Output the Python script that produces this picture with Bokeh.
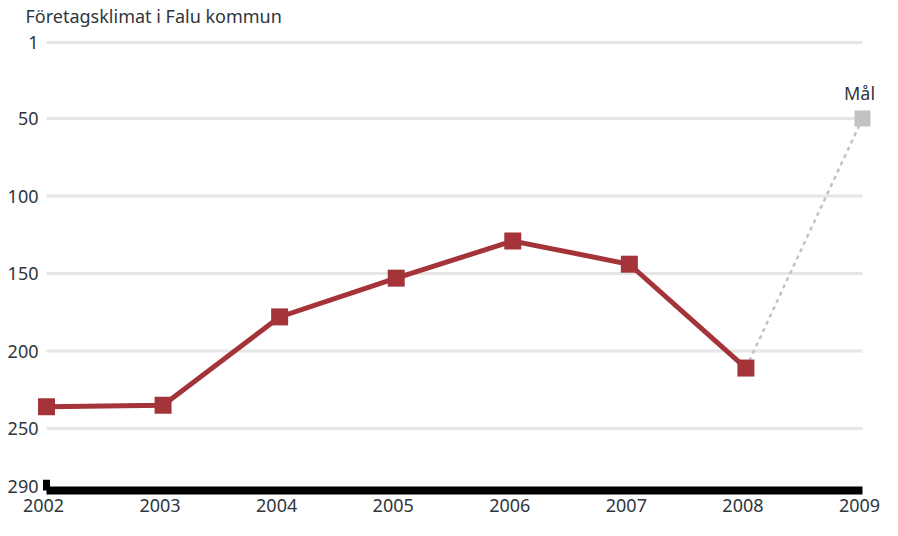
from bokeh.plotting import figure
from bokeh.models import Range1d, ColumnDataSource
from bokeh.core.properties import value
from bokeh.embed import file_html
from bokeh.resources import INLINE

# ---- data ----
years = [2002, 2003, 2004, 2005, 2006, 2007, 2008]
ranks = [236, 235, 178, 153, 129, 144, 211]
goal_year = 2009
goal_rank = 50
x_ticks = [2002, 2003, 2004, 2005, 2006, 2007, 2008, 2009]
x_tick_labels = ["2002", "2003", "2004", "2005", "2006", "2007", "2008", "2009"]
y_ticks = [1, 50, 100, 150, 200, 250, 290]
y_tick_labels = ["1", "50", "100", "150", "200", "250", "290"]
grid_values = [1, 50, 100, 150, 200, 250]
title_text = "Företagsklimat i Falu kommun"
goal_text = "Mål"

FONT = "Noto Sans"
TXT = "#30363c"
RED = "#a4343a"
GREY = "#c2c2c2"
FS = "18px"

p = figure(width=882, height=520,
           x_range=Range1d(2001.6054, 2009.1716),
           y_range=Range1d(309.35, -26.13),
           output_backend="svg", toolbar_location=None,
           x_axis_location=None, y_axis_location=None,
           min_border=0, outline_line_color=None)
p.xgrid.grid_line_color = None
p.ygrid.grid_line_color = None

n = len(grid_values)
# grid lines
p.segment(x0=[x_ticks[0]] * n, y0=grid_values, x1=[x_ticks[-1]] * n, y1=grid_values,
          line_color="#e6e6e6", line_width=3)
# baseline + left tick
bottom = y_ticks[-1]
p.segment(x0=[x_ticks[0]], y0=[bottom], x1=[x_ticks[-1]], y1=[bottom],
          line_color="black", line_width=8, line_cap="butt")
p.segment(x0=[x_ticks[0]], y0=[bottom], x1=[x_ticks[0]], y1=[bottom - 7],
          line_color="black", line_width=7, line_cap="butt")

# dashed goal line
p.line([years[-1], goal_year], [ranks[-1], goal_rank], line_color=GREY,
       line_width=2.5, line_dash="4 4")
# main series
p.line(years, ranks, line_color=RED, line_width=5, line_join="miter")
p.scatter(years, ranks, marker="square", size=17, fill_color=RED, line_color=None)
p.scatter([goal_year], [goal_rank], marker="square", size=16, fill_color=GREY, line_color=None)

# y tick labels
ysrc = ColumnDataSource(dict(x=[x_ticks[0]] * len(y_ticks), y=y_ticks, t=y_tick_labels,
                             yo=[0] * (len(y_ticks) - 1) + [-4]))
p.text(x="x", y="y", text="t", y_offset="yo", source=ysrc, x_offset=-8,
       text_align="right", text_baseline="middle",
       text_font=value(FONT), text_font_size=FS, text_color=TXT)

# x tick labels
p.text(x=x_ticks, y=[299.7] * len(x_ticks), text=x_tick_labels, x_offset=-3,
       text_align="center", text_baseline="middle",
       text_font=value(FONT), text_font_size=FS, text_color=TXT)

# title
p.text(x=[x_ticks[0]], y=[-16.45], text=[title_text], x_offset=-21,
       text_align="left", text_baseline="middle",
       text_font=value(FONT), text_font_size=FS, text_color=TXT)

# goal label
p.text(x=[goal_year], y=[goal_rank], text=[goal_text], x_offset=-3, y_offset=-26,
       text_align="center", text_baseline="middle",
       text_font=value(FONT), text_font_size=FS, text_color=TXT)

open("out.html", "w").write(file_html(p, INLINE))
